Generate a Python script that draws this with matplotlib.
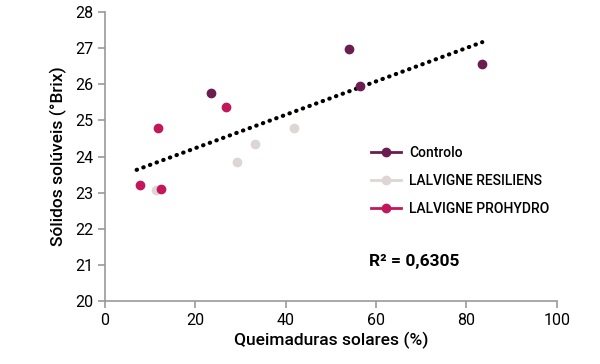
import numpy as np
import matplotlib.pyplot as plt

# dados
ctrl_x = [23.4, 54.1, 56.4, 83.5]
ctrl_y = [25.75, 26.97, 25.96, 26.56]
res_x = [11.3, 29.2, 33.3, 41.8]
res_y = [23.07, 23.86, 24.34, 24.8]
pro_x = [7.7, 11.8, 12.4, 26.8]
pro_y = [23.2, 24.8, 23.1, 25.38]

series = [
    ("Controlo", ctrl_x, ctrl_y, "#6b1d4f"),
    ("LALVIGNE RESILIENS", res_x, res_y, "#ddd6d4"),
    ("LALVIGNE PROHYDRO", pro_x, pro_y, "#c2185b"),
]

plt.rcParams['font.family'] = ['Roboto', 'DejaVu Sans']

fig = plt.figure(figsize=(6, 3.64), dpi=100)
ax = fig.add_axes([0.175, 0.173, 0.753, 0.794])

for name, xs, ys, c in series:
    ax.plot(xs, ys, 'o', color=c, ms=6, label=name, zorder=3)

# linha de tendência
all_x = np.array(ctrl_x + res_x + pro_x)
all_y = np.array(ctrl_y + res_y + pro_y)
a, b = np.polyfit(all_x, all_y, 1)
tx = np.array([7, 83.5])
ax.plot(tx, a * tx + b, color='black', lw=3, ls=(0, (0.1, 1.6)),
        dash_capstyle='round', zorder=2)

ax.set_xlim(0, 100)
ax.set_ylim(20, 28)
ax.set_xticks(range(0, 101, 20))
ax.set_yticks(range(20, 29))
ax.tick_params(labelsize=11.5, color='#999999', length=5, width=1.2)
for s in ['top', 'right']:
    ax.spines[s].set_visible(False)
for s in ['left', 'bottom']:
    ax.spines[s].set_color('#999999')
    ax.spines[s].set_linewidth(1.2)

ax.set_xlabel('Queimaduras solares (%)', fontsize=12.5, labelpad=3, fontweight='medium')
ax.set_ylabel('Sólidos solúveis (°Brix)', fontsize=12.5, labelpad=6, fontweight='medium')

handles = []
for name, xs, ys, c in series:
    h, = ax.plot([], [], '-o', color=c, ms=6, lw=2)
    handles.append(h)
leg = ax.legend(handles, [s[0] for s in series], loc='upper left',
                bbox_to_anchor=(0.56, 0.58), frameon=False, fontsize=10,
                handlelength=2.2, labelspacing=1.0, handletextpad=0.6)
for t in leg.get_texts():
    t.set_fontweight('medium')

ax.text(0.585, 0.12, 'R² = 0,6305', transform=ax.transAxes,
        fontsize=12.5, fontweight='bold')

fig.savefig('out.png', dpi=100)
